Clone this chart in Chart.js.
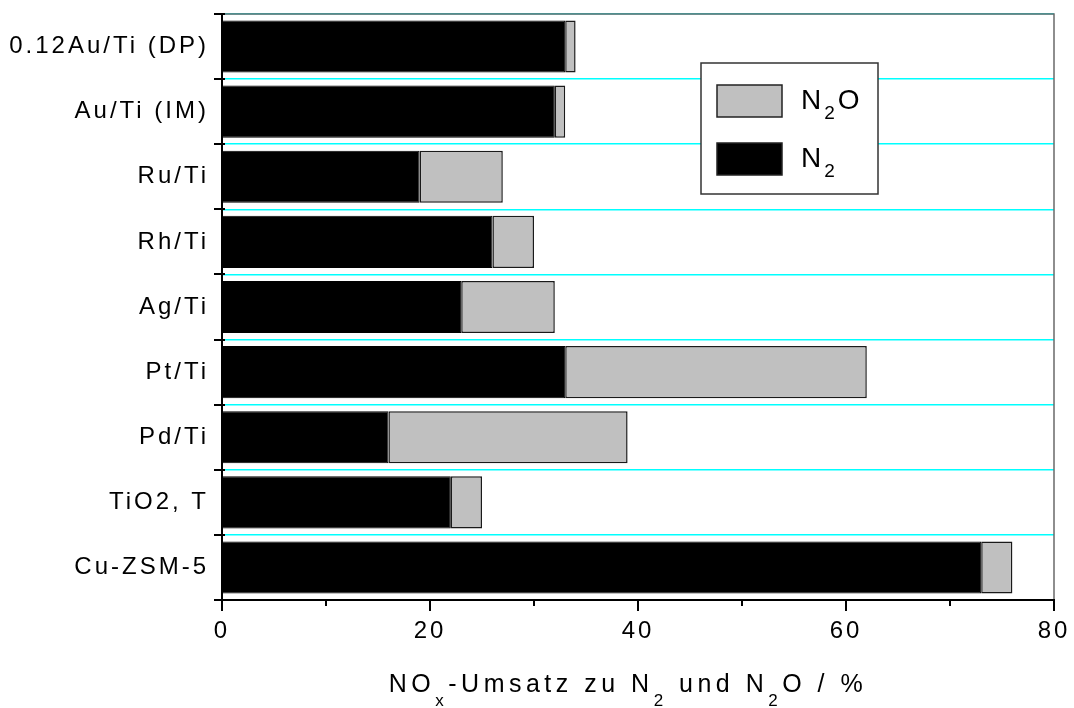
<!DOCTYPE html>
<html>
<head>
<meta charset="utf-8">
<script src="https://cdn.jsdelivr.net/npm/chart.js@4/dist/chart.umd.min.js"></script>
<style>
  html, body { margin: 0; padding: 0; background: #fff; }
  #wrap { width: 1074px; height: 708px; position: relative; }
</style>
</head>
<body>
<div id="wrap"><canvas id="c" width="1074" height="708"></canvas></div>
<script>
// Catalysts, top to bottom
const categories = ['0.12Au/Ti (DP)', 'Au/Ti (IM)', 'Ru/Ti', 'Rh/Ti', 'Ag/Ti', 'Pt/Ti', 'Pd/Ti', 'TiO2, T', 'Cu-ZSM-5'];
// NOx conversion to N2 and to N2O, in %
const n2Values  = [33, 32, 19, 26, 23, 33, 16, 22, 73];
const n2oValues = [1, 1, 8, 4, 9, 29, 23, 3, 3];
// x axis range and tick labels
const xTickValues = [0, 20, 40, 60, 80];
const xMinorValues = [10, 30, 50, 70];
// '_' marks the following character as a subscript
const seriesLabels = ['N_2', 'N_2O'];
const axisTitle = 'NO_x-Umsatz zu N_2 und N_2O / %';

const FONT = '"Liberation Sans", Arial, Helvetica, sans-serif';

function parseRich(text) {
  const runs = [];
  for (let i = 0; i < text.length; i++) {
    if (text[i] === '_' && i + 1 < text.length) {
      runs.push({ t: text[i + 1], sub: true });
      i++;
    } else {
      const last = runs[runs.length - 1];
      if (last && !last.sub) last.t += text[i];
      else runs.push({ t: text[i], sub: false });
    }
  }
  return runs;
}

function drawRich(ctx, text, x, y, o) {
  const runs = parseRich(text);
  ctx.save();
  ctx.letterSpacing = o.spacing + 'px';
  ctx.textBaseline = 'alphabetic';
  ctx.textAlign = 'left';
  ctx.fillStyle = '#000';
  let total = 0;
  runs.forEach(r => {
    ctx.font = (r.sub ? o.subSize : o.size) + 'px ' + FONT;
    r.w = ctx.measureText(r.t).width;
    total += r.w;
  });
  let cx = o.align === 'center' ? x - total / 2 : x;
  runs.forEach(r => {
    ctx.font = (r.sub ? o.subSize : o.size) + 'px ' + FONT;
    ctx.fillText(r.t, cx, r.sub ? y + o.subDrop : y);
    cx += r.w;
  });
  ctx.restore();
}

const framePlugin = {
  id: 'frame',
  beforeDraw(chart) {
    chart.ctx.letterSpacing = '3px';
  },
  afterDraw(chart) {
    const ctx = chart.ctx;
    const a = chart.chartArea;
    const xs = chart.scales.x, ys = chart.scales.y;
    ctx.save();
    ctx.letterSpacing = '0px';
    ctx.lineCap = 'butt';

    // top and right border
    ctx.strokeStyle = '#6a6a6a';
    ctx.lineWidth = 1.5;
    ctx.beginPath();
    ctx.moveTo(a.left, a.top);
    ctx.lineTo(a.right, a.top);
    ctx.lineTo(a.right, a.bottom);
    ctx.stroke();

    // axis lines
    ctx.strokeStyle = '#000';
    ctx.lineWidth = 2;
    ctx.beginPath();
    ctx.moveTo(a.left, a.top - 1);
    ctx.lineTo(a.left, a.bottom);
    ctx.lineTo(a.right + 1, a.bottom);
    ctx.stroke();

    // y ticks at category boundaries
    ctx.beginPath();
    for (let i = 0; i <= categories.length; i++) {
      const py = Math.round(ys.getPixelForValue(i - 0.5));
      ctx.moveTo(a.left - 8, py);
      ctx.lineTo(a.left + 3, py);
    }
    ctx.stroke();

    // x ticks
    ctx.beginPath();
    xTickValues.forEach(v => {
      const px = Math.round(xs.getPixelForValue(v));
      ctx.moveTo(px, a.bottom);
      ctx.lineTo(px, a.bottom + 11);
    });
    xMinorValues.forEach(v => {
      const px = Math.round(xs.getPixelForValue(v));
      ctx.moveTo(px, a.bottom);
      ctx.lineTo(px, a.bottom + 6);
    });
    ctx.stroke();

    // legend
    const lx = a.left + 479, ly = a.top + 49, lw = 177, lh = 131;
    ctx.fillStyle = '#fff';
    ctx.fillRect(lx, ly, lw, lh);
    ctx.strokeStyle = '#333';
    ctx.lineWidth = 1.5;
    ctx.strokeRect(lx, ly, lw, lh);
    const order = chart.data.datasets.map((d, i) => i).reverse();
    order.forEach((di, k) => {
      const ds = chart.data.datasets[di];
      const sy = ly + 22 + k * 58;
      ctx.fillStyle = ds.backgroundColor;
      ctx.fillRect(lx + 16, sy, 65, 32);
      ctx.strokeStyle = '#222';
      ctx.lineWidth = 1.5;
      ctx.strokeRect(lx + 16, sy, 65, 32);
      drawRich(ctx, seriesLabels[di], lx + 100, sy + 24, {
        size: 28, subSize: 19, subDrop: 10, spacing: 3, align: 'left'
      });
    });

    // x axis title
    drawRich(ctx, axisTitle, (a.left + a.right) / 2 - 10, 692, {
      size: 25, subSize: 17, subDrop: 14, spacing: 4.5, align: 'center'
    });
    ctx.restore();
  }
};

new Chart(document.getElementById('c'), {
  type: 'bar',
  data: {
    labels: categories,
    datasets: [
      {
        label: 'N\u2082',
        data: n2Values,
        backgroundColor: '#000000',
        borderColor: '#000000',
        borderWidth: 1,
        borderSkipped: false
      },
      {
        label: 'N\u2082O',
        data: n2oValues,
        backgroundColor: '#c0c0c0',
        borderColor: '#1a1a1a',
        borderWidth: 1.5,
        borderSkipped: false
      }
    ]
  },
  options: {
    indexAxis: 'y',
    responsive: false,
    animation: false,
    devicePixelRatio: 1,
    categoryPercentage: 0.8,
    barPercentage: 1,
    layout: { padding: { top: 14, right: 20, left: 0, bottom: 0 } },
    plugins: {
      legend: { display: false },
      tooltip: { enabled: false }
    },
    scales: {
      x: {
        type: 'linear',
        stacked: true,
        min: 0,
        max: 80,
        afterFit(s) {
          s.height = 108;
          s.paddingLeft = 0;
          s.paddingRight = 0;
        },
        afterBuildTicks(s) { s.ticks = xTickValues.map(v => ({ value: v })); },
        ticks: {
          padding: 17,
          color: '#000',
          font: { size: 24, family: FONT }
        },
        grid: { display: false, drawTicks: false },
        border: { display: false }
      },
      y: {
        stacked: true,
        afterFit(s) {
          s.width = 222;
          s.paddingTop = 0;
          s.paddingBottom = 0;
        },
        ticks: {
          padding: 13,
          color: '#000',
          font: { size: 24, family: FONT }
        },
        grid: {
          color: '#00ffff',
          lineWidth: 1.5,
          drawTicks: false,
          offset: true
        },
        border: { display: false }
      }
    }
  },
  plugins: [framePlugin]
});
</script>
</body>
</html>
